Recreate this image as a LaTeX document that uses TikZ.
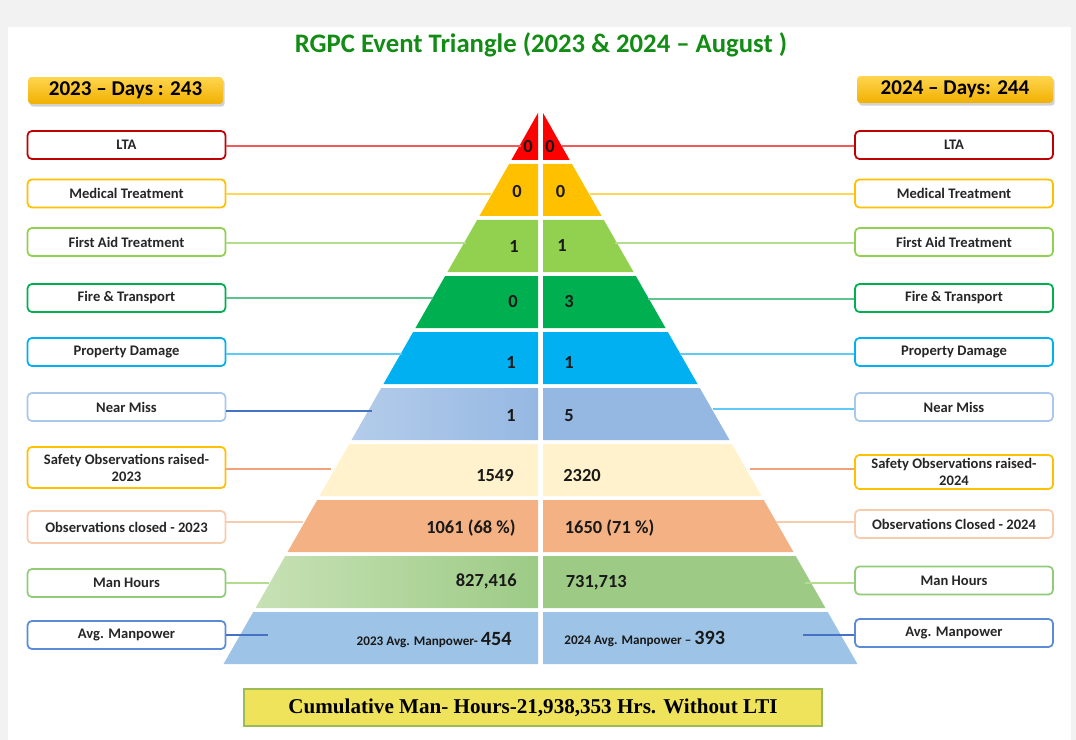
\documentclass[tikz,border=0pt]{standalone}
\usepackage{fontspec}
\setmainfont{Carlito}
\newfontfamily\serifbf{Liberation Serif}
\usetikzlibrary{positioning,shadows,calc}

\definecolor{pagegray}{HTML}{F2F2F2}
\definecolor{titlegr}{HTML}{128C14}
\definecolor{txtgray}{HTML}{262626}
\definecolor{ltared}{HTML}{FF0000}
\definecolor{ltabord}{HTML}{C00000}
\definecolor{ltaline}{HTML}{F25A5A}
\definecolor{medyel}{HTML}{FFC000}
\definecolor{medline}{HTML}{FFD659}
\definecolor{faid}{HTML}{92D050}
\definecolor{faidline}{HTML}{B3DD8E}
\definecolor{firegr}{HTML}{00B050}
\definecolor{fireline}{HTML}{5CC48C}
\definecolor{propbl}{HTML}{00B0F0}
\definecolor{propline}{HTML}{5FCBF5}
\definecolor{nmissA}{HTML}{B4CCEA}
\definecolor{nmissB}{HTML}{95B8E2}
\definecolor{nmissbord}{HTML}{A9C8EC}
\definecolor{darkbl}{HTML}{4472C4}
\definecolor{safey}{HTML}{FFF2CC}
\definecolor{safeline}{HTML}{F2A27A}
\definecolor{obsor}{HTML}{F4B183}
\definecolor{obsbord}{HTML}{F8CBAD}
\definecolor{manhA}{HTML}{C7E1B5}
\definecolor{manhB}{HTML}{9DCB86}
\definecolor{manhbord}{HTML}{92CC78}
\definecolor{avgbl}{HTML}{9DC3E6}
\definecolor{avgbord}{HTML}{5B8BD6}
\definecolor{daysA}{HTML}{FFD54F}
\definecolor{daysB}{HTML}{F0B000}
\definecolor{cumyel}{HTML}{F0E35C}
\definecolor{cumbord}{HTML}{9BBB59}

\tikzset{
	lbl/.style={draw=#1, fill=white, line width=1pt, rounded corners=2.5pt,
		minimum width=3.96cm, minimum height=0.56cm, inner sep=1pt, align=center,
		font=\bfseries\fontsize{8.3}{9.6}\selectfont, text=txtgray},
	val/.style={font=\bfseries\fontsize{10.5}{12}\selectfont, text=black!90, inner sep=0pt},
	link/.style={draw=#1, line width=0.6pt},
	daysbox/.style={top color=daysA, bottom color=daysB, rounded corners=2pt,
		minimum width=3.9cm, minimum height=0.54cm, inner sep=1pt,
		font=\bfseries\fontsize{12}{14}\selectfont, text=black,
		drop shadow={opacity=0.35, shadow xshift=1pt, shadow yshift=-1.5pt}}
}

\begin{document}
\begin{tikzpicture}[x=0.02cm, y=-0.02cm]
	\useasboundingbox (0,0) rectangle (1076,740);
	\fill[pagegray] (0,0) rectangle (1076,740);
	\fill[white] (8,27) rectangle (1071,740);
	
	% title and day counters
	\node[font=\bfseries\fontsize{15.2}{18}\selectfont, text=titlegr] (title) at (541,45) {RGPC Event Triangle (2023 \& 2024 – August )};
	\node[daysbox] (ldays) at (125.5,90.5) {2023 – Days : 243};
	\node[daysbox, minimum width=3.92cm] (rdays) at (955,89.5) {2024 – Days: 244};
	
	% pyramid, two halves
	\foreach \i/\la/\lb/\ra/\rb in {0/ltared/ltared/ltared/ltared, 1/medyel/medyel/medyel/medyel,
		2/faid/faid/faid/faid, 3/firegr/firegr/firegr/firegr, 4/propbl/propbl/propbl/propbl,
		5/nmissA/nmissB/nmissB/nmissB, 6/safey/safey/safey/safey, 7/obsor/obsor/obsor/obsor,
		8/manhA/manhB/manhB/manhB, 9/avgbl/avgbl/avgbl/avgbl}{
		\pgfmathsetmacro\tp{ifthenelse(\i==0,113,108+56*\i)}
		\pgfmathsetmacro\bt{160+56*\i}
		\pgfmathsetmacro\lt{min(538,540.5-0.571*(\tp-109))}
		\pgfmathsetmacro\lbx{540.5-0.571*(\bt-109)}
		\pgfmathsetmacro\rt{max(543,540.5+0.571*(\tp-109))}
		\pgfmathsetmacro\rbx{540.5+0.571*(\bt-109)}
		\shade[left color=\la, right color=\lb] (\lt,\tp) -- (538,\tp) -- (538,\bt) -- (\lbx,\bt) -- cycle;
		\shade[left color=\ra, right color=\rb] (543,\tp) -- (\rt,\tp) -- (\rbx,\bt) -- (543,\bt) -- cycle;
	}
	
	% left labels
	\node[lbl=ltabord] (llta) at (126.5,145) {LTA};
	\node[lbl=medyel] (lmed) at (126.5,193.5) {Medical Treatment};
	\node[lbl=faid] (lfaid) at (126.5,242) {First Aid Treatment};
	\node[lbl=firegr] (lfire) at (126.5,298) {Fire \& Transport};
	\node[lbl=propbl] (lprop) at (126.5,352) {Property Damage};
	\node[lbl=nmissbord] (lnear) at (126.5,407) {Near Miss};
	\node[lbl=medyel, minimum height=0.82cm] (lsafe) at (126.5,467.5) {Safety Observations raised-\\2023};
	\node[lbl=obsbord, minimum height=0.64cm] (lobs) at (126.5,527) {Observations closed - 2023};
	\node[lbl=manhbord] (lman) at (126.5,583) {Man Hours};
	\node[lbl=avgbord] (lavg) at (126.5,635) {Avg. Manpower};
	
	% right labels
	\node[lbl=ltabord] (rlta) at (954,145) {LTA};
	\node[lbl=medyel] (rmed) at (954,193.5) {Medical Treatment};
	\node[lbl=faid] (rfaid) at (954,242) {First Aid Treatment};
	\node[lbl=firegr] (rfire) at (954,298) {Fire \& Transport};
	\node[lbl=propbl] (rprop) at (954,352) {Property Damage};
	\node[lbl=nmissbord] (rnear) at (954,407) {Near Miss};
	\node[lbl=medyel, minimum height=0.68cm] (rsafe) at (954,472) {Safety Observations raised-\\2024};
	\node[lbl=obsbord] (robs) at (954,524) {Observations Closed - 2024};
	\node[lbl=manhbord] (rman) at (954,580.5) {Man Hours};
	\node[lbl=avgbord] (ravg) at (954,633) {Avg. Manpower};
	
	% connector ends inside the pyramid
	\coordinate (elta) at (521,146);   \coordinate (slta) at (562,146);
	\coordinate (emed) at (491,194);   \coordinate (smed) at (590,194);
	\coordinate (efaid) at (466,243);  \coordinate (sfaid) at (615,243);
	\coordinate (efire) at (433,298);  \coordinate (sfire) at (648,299);
	\coordinate (eprop) at (402,354);  \coordinate (sprop) at (680,354);
	\coordinate (enear) at (372,411);  \coordinate (snear) at (713,409);
	\coordinate (esafe) at (331,469);  \coordinate (ssafe) at (750,469);
	\coordinate (eobs) at (303,522);   \coordinate (sobs) at (776,522);
	\coordinate (eman) at (269,583);   \coordinate (sman) at (805,583);
	\coordinate (eavg) at (268,635);   \coordinate (savg) at (803,635);
	
	\draw[link=ltaline] (llta.east |- elta) -- (elta);
	\draw[link=medline] (lmed.east |- emed) -- (emed);
	\draw[link=faidline] (lfaid.east |- efaid) -- (efaid);
	\draw[link=fireline] (lfire.east |- efire) -- (efire);
	\draw[link=propline] (lprop.east |- eprop) -- (eprop);
	\draw[link=darkbl] (lnear.east |- enear) -- (enear);
	\draw[link=safeline] (lsafe.east |- esafe) -- (esafe);
	\draw[link=obsbord] (lobs.east |- eobs) -- (eobs);
	\draw[link=faidline] (lman.east |- eman) -- (eman);
	\draw[link=darkbl] (lavg.east |- eavg) -- (eavg);
	
	\draw[link=ltaline] (slta) -- (rlta.west |- slta);
	\draw[link=medline] (smed) -- (rmed.west |- smed);
	\draw[link=faidline] (sfaid) -- (rfaid.west |- sfaid);
	\draw[link=fireline] (sfire) -- (rfire.west |- sfire);
	\draw[link=propline] (sprop) -- (rprop.west |- sprop);
	\draw[link=propline] (snear) -- (rnear.west |- snear);
	\draw[link=safeline] (ssafe) -- (rsafe.west |- ssafe);
	\draw[link=obsbord] (sobs) -- (robs.west |- sobs);
	\draw[link=faidline] (sman) -- (rman.west |- sman);
	\draw[link=darkbl] (savg) -- (ravg.west |- savg);
	
	% values 2023
	\node[val] (vlta) at (528,147) {0};
	\node[val] (vmed) at (517,192) {0};
	\node[val] (vfaid) at (514,247) {1};
	\node[val] (vfire) at (513,302) {0};
	\node[val] (vprop) at (511,363) {1};
	\node[val] (vnear) at (511,416) {1};
	\node[val, anchor=east] (vsafe) at (514,476) {1549};
	\node[val, anchor=east] (vobs) at (516,528) {1061 (68 \%)};
	\node[val, anchor=east] (vman) at (517,581) {827,416};
	\node[val, anchor=base east] (vavg) at (512,645) {{\fontsize{7.5}{9}\selectfont 2023 Avg. Manpower-}\,{\fontsize{11.5}{13}\selectfont 454}};
	
	% values 2024
	\node[val] (wlta) at (550,147) {0};
	\node[val] (wmed) at (560.5,192) {0};
	\node[val] (wfaid) at (562,246) {1};
	\node[val] (wfire) at (569,302) {3};
	\node[val] (wprop) at (569,363) {1};
	\node[val] (wnear) at (569,416) {5};
	\node[val, anchor=west] (wsafe) at (563,476) {2320};
	\node[val, anchor=west] (wobs) at (564.5,528) {1650 (71 \%)};
	\node[val, anchor=west] (wman) at (565.5,583) {731,713};
	\node[val, anchor=base west] (wavg) at (564,644) {{\fontsize{7.5}{9}\selectfont 2024 Avg. Manpower –}\,{\fontsize{11.5}{13}\selectfont 393}};
	
	% cumulative banner
	\node[draw=cumbord, line width=1pt, fill=cumyel, minimum width=11.56cm, minimum height=0.74cm,
		font=\serifbf\bfseries\fontsize{12}{14}\selectfont] (cum) at (533,707.5) {Cumulative Man- Hours-21,938,353 Hrs. Without LTI};
\end{tikzpicture}
\end{document}
